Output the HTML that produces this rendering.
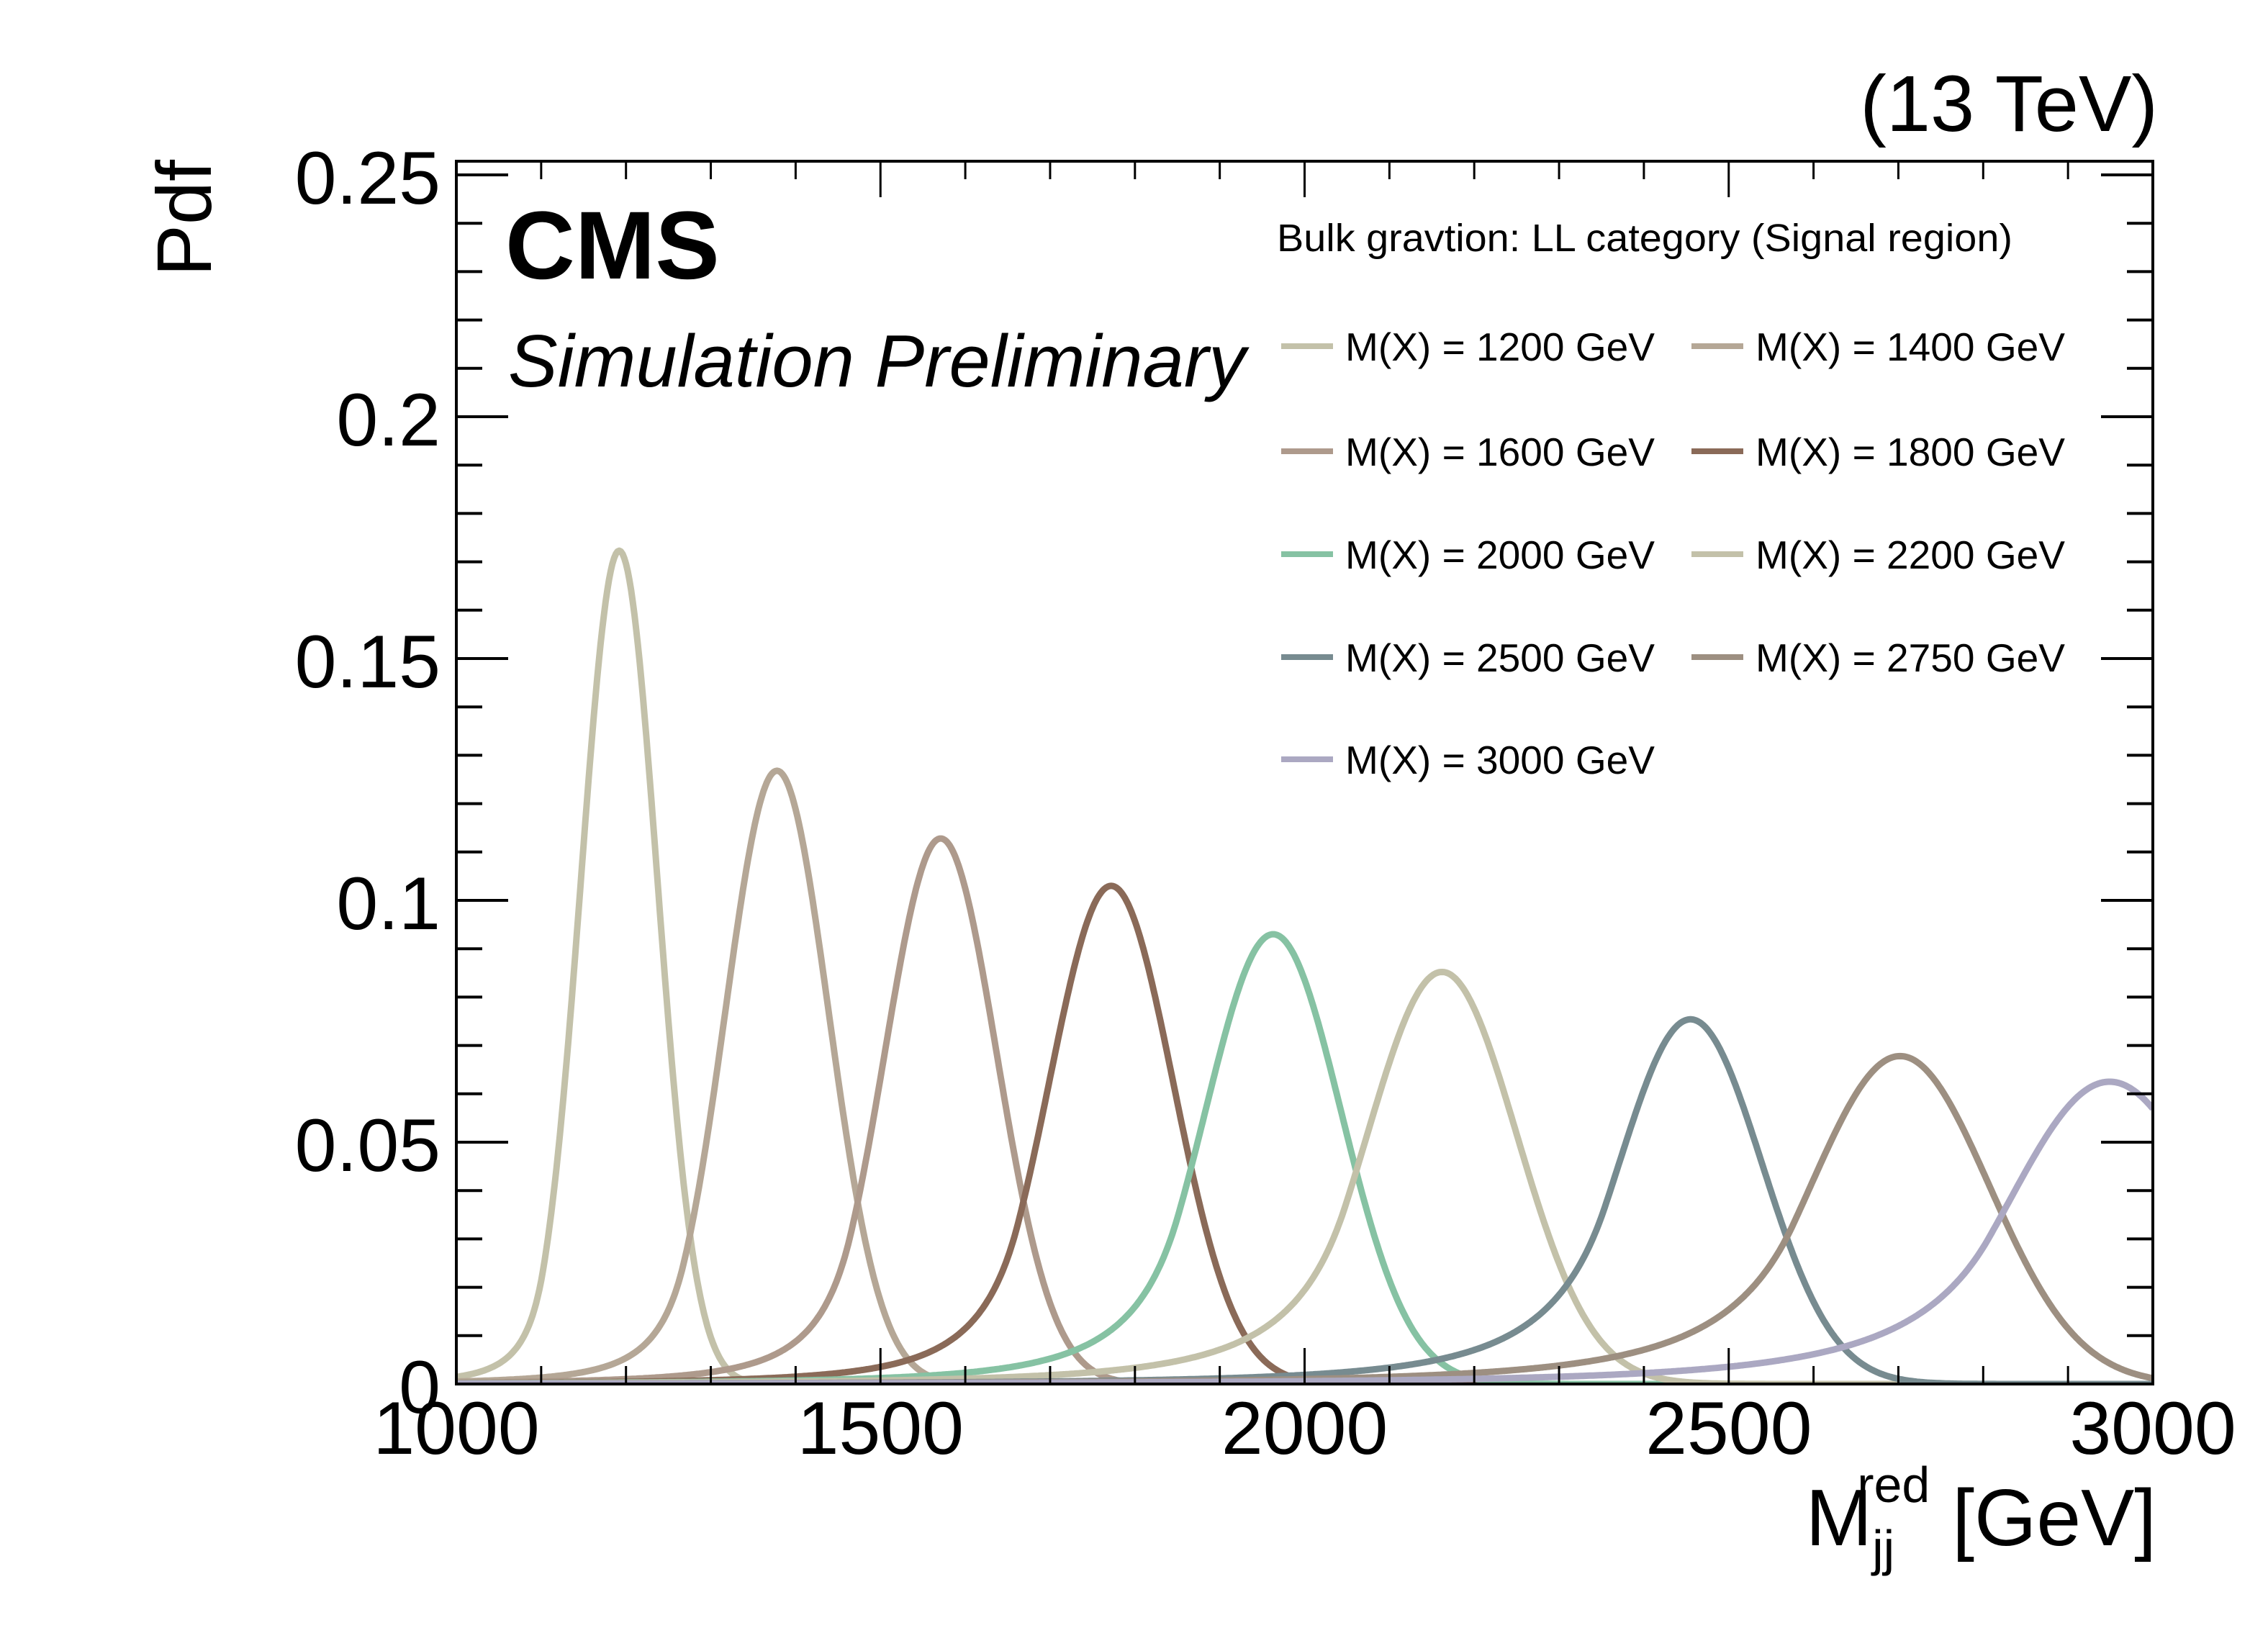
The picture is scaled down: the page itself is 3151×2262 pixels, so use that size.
<!DOCTYPE html>
<html><head><meta charset="utf-8">
<style>
html,body{margin:0;padding:0;background:#fff;}
svg{display:block;font-family:"Liberation Sans",sans-serif;}
</style></head>
<body>
<svg id="chart" width="3151" height="2262" viewBox="0 0 3151 2262" xmlns="http://www.w3.org/2000/svg">
<rect x="0" y="0" width="3151" height="2262" fill="#fff"/>
<defs><clipPath id="plotclip"><rect x="634" y="224" width="2357" height="1699"/></clipPath></defs>
<g id="curves" clip-path="url(#plotclip)"></g>
<g id="axes"></g>
<text x="2998" y="182" font-size="110" text-anchor="end">(13 TeV)</text>
<text x="702" y="387" font-size="134" font-weight="bold">CMS</text>
<text x="706" y="537" font-size="103" font-style="italic">Simulation Preliminary</text>
<text transform="translate(293,222) rotate(-90)" font-size="108" text-anchor="end">Pdf</text>
<text x="2996" y="2147" font-size="111" text-anchor="end">M<tspan font-size="70" dy="28">jj</tspan><tspan font-size="70" dx="-52" dy="-88">red</tspan><tspan dy="60"> [GeV]</tspan></text>
<text x="1774" y="349" font-size="54" textLength="1022" lengthAdjust="spacingAndGlyphs">Bulk gravtion:  LL category (Signal region)</text>
<g id="legend"></g>
</svg>
<script>
const masses = [1200, 1400, 1600, 1800, 2000, 2200, 2500, 2750, 3000];
const means = [1192, 1378, 1571, 1772, 1963, 2162, 2455, 2702, 2949];
const peaks = [0.1723, 0.1268, 0.1128, 0.1030, 0.0930, 0.0852, 0.0754, 0.0678, 0.0625];
const sigmas = [45, 61, 66, 73, 80, 88, 84, 105, 118];
const alphas = [2.0, 1.8, 1.6, 1.5, 1.4, 1.3, 1.2, 1.2, 1.2];
const colors = ["#c3c1a9", "#b5a796", "#ae9a8c", "#8a6a58", "#86c2a3", "#c3c1a9", "#778b90", "#9d8f81", "#aba8c2"];
const tailN = 3;
const xTicks = [1000, 1500, 2000, 2500, 3000];
const yTicks = [0, 0.05, 0.1, 0.15, 0.2, 0.25];
const yTickLabels = ["0", "0.05", "0.1", "0.15", "0.2", "0.25"];

const NS = "http://www.w3.org/2000/svg";
const X0 = 634, X1 = 2991, Y0 = 1923, YTOP = 224;
const xMin = 1000, xMax = 3000;
const yPerUnit = 6720;
function xs(v){ return X0 + (v - xMin) / (xMax - xMin) * (X1 - X0); }
function ys(v){ return Y0 - v * yPerUnit; }
function shape(x, m, s, a, n){
  const t = (x - m) / s;
  if (t > -a) return Math.exp(-0.5 * t * t);
  const A = Math.pow(n / a, n) * Math.exp(-0.5 * a * a);
  const B = n / a - a;
  return A * Math.pow(B - t, -n);
}
function mk(tag, attrs){ const e = document.createElementNS(NS, tag); for (const k in attrs) e.setAttribute(k, attrs[k]); return e; }

const cg = document.getElementById("curves");
masses.forEach((m, i) => {
  let d = "";
  for (let x = xMin; x <= xMax; x += 2) {
    const v = peaks[i] * shape(x, means[i], sigmas[i], alphas[i], tailN);
    d += (x === xMin ? "M" : "L") + xs(x).toFixed(1) + "," + ys(v).toFixed(1);
  }
  const p = mk("path", {d: d, fill: "none", stroke: colors[i], "stroke-width": 9, "stroke-linejoin": "round"});
  
  
  cg.appendChild(p);
});

const ag = document.getElementById("axes");
const frame = mk("rect", {x: X0, y: YTOP, width: X1 - X0, height: Y0 - YTOP, fill: "none", stroke: "#000", "stroke-width": 4});


ag.appendChild(frame);
for (let v = xMin; v <= xMax; v += 100) {
  const major = (v % 500 === 0);
  const L = major ? 50 : 25;
  const t1 = mk("line", {x1: xs(v), x2: xs(v), y1: Y0, y2: Y0 - L, stroke: "#000", "stroke-width": 3});
  
  
  ag.appendChild(t1);
  const t2 = mk("line", {x1: xs(v), x2: xs(v), y1: YTOP, y2: YTOP + L, stroke: "#000", "stroke-width": 3});
  
  
  ag.appendChild(t2);
}
for (let k = 0; k <= 25; k++) {
  const v = k * 0.01;
  const major = (k % 5 === 0);
  const L = major ? 72 : 36;
  const t1 = mk("line", {x1: X0, x2: X0 + L, y1: ys(v), y2: ys(v), stroke: "#000", "stroke-width": 4});
  
  
  ag.appendChild(t1);
  const t2 = mk("line", {x1: X1, x2: X1 - L, y1: ys(v), y2: ys(v), stroke: "#000", "stroke-width": 4});
  
  
  ag.appendChild(t2);
}
xTicks.forEach(v => {
  const t = mk("text", {x: xs(v), y: 2020, "font-size": 104, "text-anchor": "middle"});
  t.textContent = String(v);
  
  
  ag.appendChild(t);
});
yTicks.forEach((v, i) => {
  const t = mk("text", {x: 612, y: ys(v) + 40, "font-size": 104, "text-anchor": "end"});
  t.textContent = yTickLabels[i];
  
  
  ag.appendChild(t);
});

const lg = document.getElementById("legend");
const rowY = [481, 627, 770, 913, 1055];
masses.forEach((m, i) => {
  const col = i % 2, row = Math.floor(i / 2);
  const sx = col ? 2350 : 1780, tx = col ? 2439 : 1869;
  const sw = mk("line", {x1: sx, x2: sx + 72, y1: rowY[row], y2: rowY[row], stroke: colors[i], "stroke-width": 8});
  
  
  lg.appendChild(sw);
  const t = mk("text", {x: tx, y: rowY[row] + 20, "font-size": 55, textLength: 430, lengthAdjust: "spacingAndGlyphs"});
  t.textContent = "M(X) = " + m + " GeV";
  
  
  lg.appendChild(t);
});
</script>
</body></html>
